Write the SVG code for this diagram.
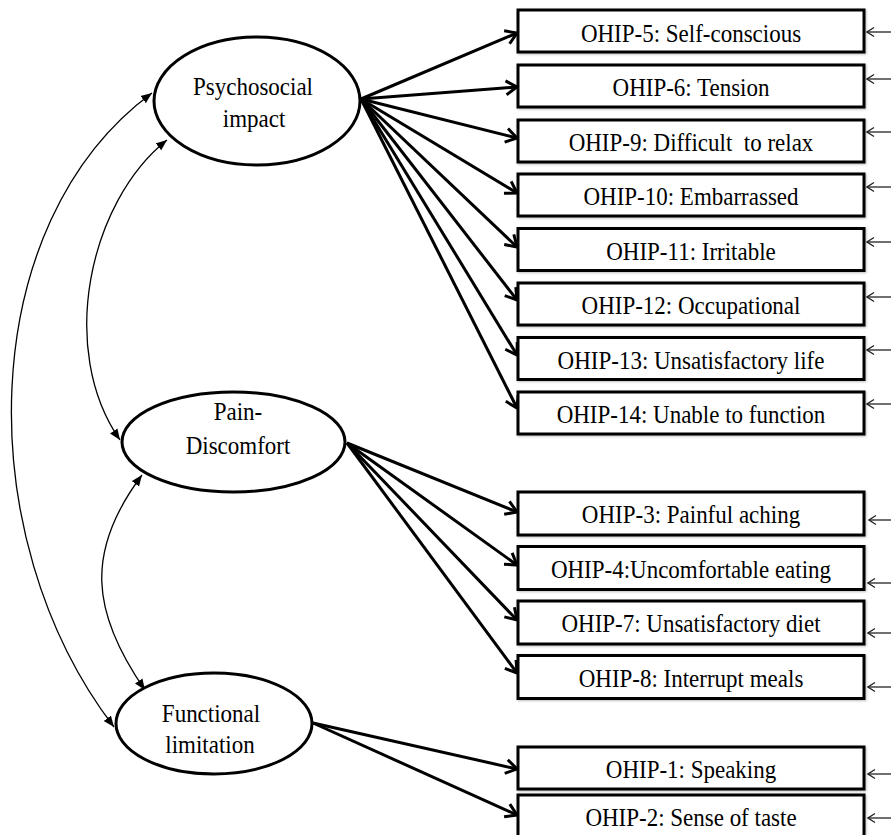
<svg xmlns="http://www.w3.org/2000/svg" width="891" height="835" viewBox="0 0 891 835">
<defs>
<style>
.lat{fill:#fff;stroke:#000;stroke-width:3}
.box{fill:#fff;stroke:#000;stroke-width:3;filter:url(#sh)}
.t{font-family:"Liberation Serif","Times New Roman",serif;font-size:23px;fill:#000;text-anchor:middle}
.fan{stroke:#000;stroke-width:3;fill:none;marker-end:url(#vhead)}
.cov{stroke:#000;stroke-width:1.3;fill:none;marker-start:url(#tri);marker-end:url(#tri)}
.err{stroke:#222;stroke-width:1.3;fill:none;marker-end:url(#thin)}
</style>
<filter id="sh" x="-5%" y="-20%" width="110%" height="140%">
<feDropShadow dx="1" dy="1" stdDeviation="1" flood-color="#000" flood-opacity="0.25"/>
</filter>
<marker id="vhead" markerUnits="userSpaceOnUse" markerWidth="18" markerHeight="18" viewBox="0 0 18 18" refX="15" refY="9" orient="auto">
<path d="M4,2 L15,9 L4,16" fill="none" stroke="#000" stroke-width="3"/>
</marker>
<marker id="tri" markerUnits="userSpaceOnUse" markerWidth="12" markerHeight="10" viewBox="0 0 12 10" refX="11" refY="5" orient="auto-start-reverse">
<path d="M0,0.5 L11,5 L0,9.5 Z" fill="#000"/>
</marker>
<marker id="thin" markerUnits="userSpaceOnUse" markerWidth="12" markerHeight="12" viewBox="0 0 12 12" refX="11" refY="6" orient="auto">
<path d="M4,1.5 L11,6 L4,10.5" fill="none" stroke="#222" stroke-width="1.3"/>
</marker>
</defs>
<rect width="891" height="835" fill="#fff"/>

<g id="connectors">
<path class="cov" d="M152,93 C-25,223 -31.7,536.4 114,727"/>
<path class="cov" d="M167,140 C89,202 57.3,349.8 120,440"/>
<path class="cov" d="M142,475 C85,551 90.8,612 145,690"/>

<line class="fan" x1="361" y1="99" x2="517" y2="33"/>
<line class="fan" x1="361" y1="99" x2="517" y2="87"/>
<line class="fan" x1="361" y1="99" x2="517" y2="138"/>
<line class="fan" x1="361" y1="99" x2="517" y2="193"/>
<line class="fan" x1="361" y1="99" x2="517" y2="247"/>
<line class="fan" x1="361" y1="99" x2="517" y2="300"/>
<line class="fan" x1="361" y1="99" x2="517" y2="355"/>
<line class="fan" x1="361" y1="99" x2="517" y2="408"/>

<line class="fan" x1="347" y1="443" x2="517" y2="512"/>
<line class="fan" x1="347" y1="443" x2="517" y2="565"/>
<line class="fan" x1="347" y1="443" x2="517" y2="620"/>
<line class="fan" x1="347" y1="443" x2="517" y2="673"/>

<line class="fan" x1="313" y1="723" x2="517" y2="769"/>
<line class="fan" x1="313" y1="723" x2="517" y2="815"/>

<line class="err" x1="893" y1="32" x2="867" y2="32"/>
<line class="err" x1="893" y1="79" x2="867" y2="79"/>
<line class="err" x1="893" y1="132" x2="867" y2="132"/>
<line class="err" x1="893" y1="187" x2="867" y2="187"/>
<line class="err" x1="893" y1="242" x2="867" y2="242"/>
<line class="err" x1="893" y1="297" x2="867" y2="297"/>
<line class="err" x1="893" y1="350" x2="867" y2="350"/>
<line class="err" x1="893" y1="404" x2="867" y2="404"/>
<line class="err" x1="893" y1="520" x2="869" y2="520"/>
<line class="err" x1="893" y1="583" x2="868" y2="583"/>
<line class="err" x1="893" y1="633" x2="868" y2="633"/>
<line class="err" x1="893" y1="687" x2="868" y2="687"/>
<line class="err" x1="893" y1="774" x2="868" y2="774"/>
<line class="err" x1="893" y1="818" x2="868" y2="818"/>
</g>

<g id="psychosocial">
<ellipse class="lat" cx="257" cy="101" rx="103" ry="64"/>
<text class="t" transform="translate(253 95) scale(1 1.1)">Psychosocial</text>
<text class="t" transform="translate(254 127) scale(1 1.1)">impact</text>
</g>
<g id="pain">
<ellipse class="lat" cx="233.5" cy="442" rx="111.5" ry="50"/>
<text class="t" transform="translate(238 420) scale(1 1.1)">Pain-</text>
<text class="t" transform="translate(238 454) scale(1 1.1)">Discomfort</text>
</g>
<g id="functional">
<ellipse class="lat" cx="214" cy="723.5" rx="98" ry="50.5"/>
<text class="t" transform="translate(211 722) scale(1 1.1)">Functional</text>
<text class="t" transform="translate(210 753) scale(1 1.1)">limitation</text>
</g>

<g id="ohip5"><rect class="box" x="518" y="10" width="346" height="42"/><text class="t" transform="translate(691 41.5) scale(1 1.1)">OHIP-5: Self-conscious</text></g>
<g id="ohip6"><rect class="box" x="518" y="65" width="346" height="42"/><text class="t" transform="translate(691 96) scale(1 1.1)">OHIP-6: Tension</text></g>
<g id="ohip9"><rect class="box" x="518" y="120" width="346" height="42"/><text class="t" xml:space="preserve" transform="translate(691 151) scale(1 1.1)">OHIP-9: Difficult  to relax</text></g>
<g id="ohip10"><rect class="box" x="518" y="174" width="346" height="42"/><text class="t" transform="translate(691 205) scale(1 1.1)">OHIP-10: Embarrassed</text></g>
<g id="ohip11"><rect class="box" x="518" y="228.5" width="346" height="42"/><text class="t" transform="translate(691 259.5) scale(1 1.1)">OHIP-11: Irritable</text></g>
<g id="ohip12"><rect class="box" x="518" y="283" width="346" height="42"/><text class="t" transform="translate(691 314) scale(1 1.1)">OHIP-12: Occupational</text></g>
<g id="ohip13"><rect class="box" x="518" y="337.5" width="346" height="42"/><text class="t" transform="translate(691 368.5) scale(1 1.1)">OHIP-13: Unsatisfactory life</text></g>
<g id="ohip14"><rect class="box" x="518" y="392" width="346" height="42"/><text class="t" transform="translate(691 423) scale(1 1.1)">OHIP-14: Unable to function</text></g>

<g id="ohip3"><rect class="box" x="518" y="492" width="346" height="43"/><text class="t" transform="translate(691 523) scale(1 1.1)">OHIP-3: Painful aching</text></g>
<g id="ohip4"><rect class="box" x="518" y="546.5" width="346" height="43"/><text class="t" transform="translate(691 577.5) scale(1 1.1)">OHIP-4:Uncomfortable eating</text></g>
<g id="ohip7"><rect class="box" x="518" y="601" width="346" height="43"/><text class="t" transform="translate(691 632) scale(1 1.1)">OHIP-7: Unsatisfactory diet</text></g>
<g id="ohip8"><rect class="box" x="518" y="655.5" width="346" height="43"/><text class="t" transform="translate(691 686.5) scale(1 1.1)">OHIP-8: Interrupt meals</text></g>

<g id="ohip1"><rect class="box" x="518" y="747" width="346" height="42"/><text class="t" transform="translate(691 778) scale(1 1.1)">OHIP-1: Speaking</text></g>
<g id="ohip2"><rect class="box" x="518" y="795" width="346" height="44"/><text class="t" transform="translate(691 826) scale(1 1.1)">OHIP-2: Sense of taste</text></g>
</svg>
